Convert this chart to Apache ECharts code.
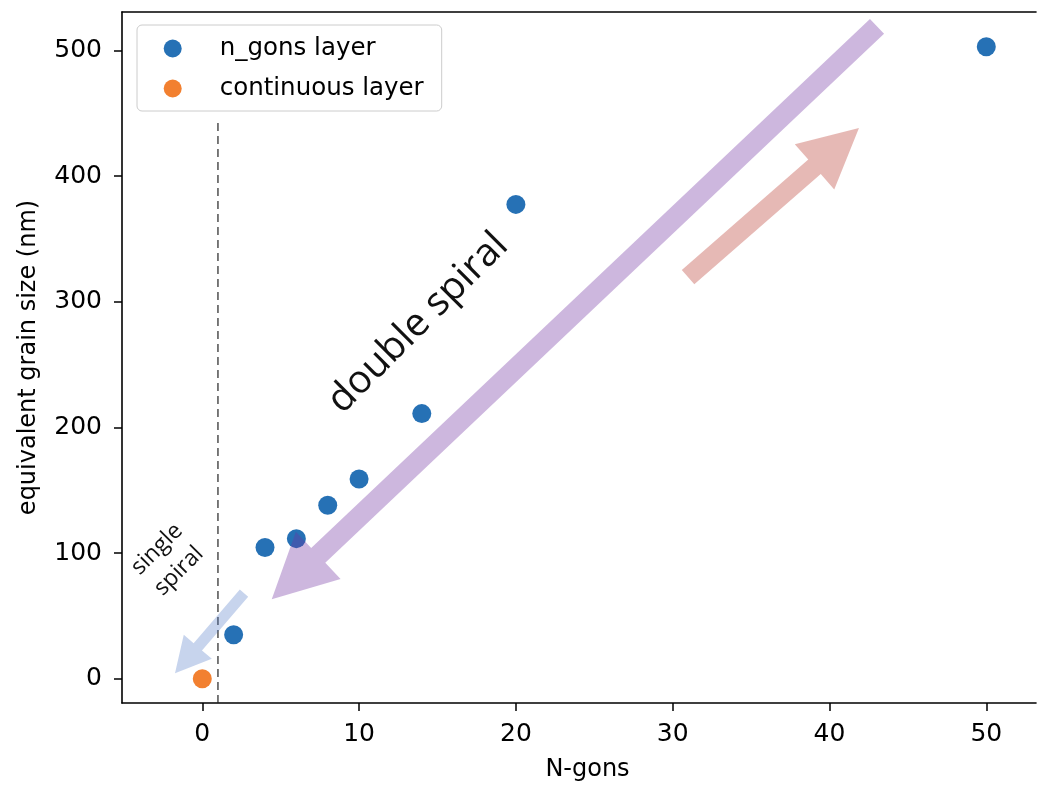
<!DOCTYPE html>
<html><head><meta charset="utf-8">
<script src="https://cdn.jsdelivr.net/npm/echarts@6/dist/echarts.min.js"></script>
<style>html,body{margin:0;padding:0;background:#fff}#c{width:1038px;height:787px}</style>
</head><body><div id="c"></div>
<script>
// ---- data ----
const nGonsX = [2, 4, 6, 8, 10, 14, 20, 50];
const nGonsY = [35, 104.5, 111.5, 138, 159, 211, 377.5, 503];
const continuousX = [0];
const continuousY = [0];
const xTicks = [0, 10, 20, 30, 40, 50];
const yTicks = [0, 100, 200, 300, 400, 500];
const xRange = [-5.12, 53.17];
const yRange = [-19.3, 530.6];
const dividerX = [1, 1];
const dividerY = [-19.3, 443];
const arrowTail = [[43.03, 519.2], [30.98, 319.6], [2.66, 68.2]];
const arrowTip = [[4.43, 63.2], [41.88, 438.3], [-1.74, 4.3]];
const noteTexts = ['double spiral', 'single\nspiral'];
const notePos = [[13.76, 283], [-2.19, 94.4]];

// ---- styles ----
const arrowStyle = [
  {shaft: 20.5, headW: 65, headL: 64, color: 'rgba(112,48,160,0.35)'},
  {shaft: 19, headW: 60, headL: 59, color: 'rgba(190,70,60,0.38)'},
  {shaft: 11, headW: 37, headL: 35, color: 'rgba(68,114,196,0.3)'}
];
const noteStyle = [
  {font: '400 39px "Open Sans", Lato, sans-serif', rot: Math.PI / 4, lh: 48},
  {font: '400 23px "Open Sans", Lato, sans-serif', rot: Math.PI / 4, lh: 31}
];
const F = '"DejaVu Sans", sans-serif';

const chart = echarts.init(document.getElementById('c'), null, {renderer: 'canvas'});
const axisLine = {show: true, onZero: false, lineStyle: {color: '#000', width: 1.6}};
chart.setOption({
  animation: false,
  backgroundColor: '#fff',
  grid: {left: 122, top: 12, right: 2, bottom: 84, containLabel: false, show: false},
  legend: {
    orient: 'vertical', left: 137, top: 25,
    padding: [11, 18, 10, 26.7],
    itemWidth: 18, itemHeight: 18, itemGap: 15,
    icon: 'circle',
    backgroundColor: 'rgba(255,255,255,0.85)',
    borderColor: '#cccccc', borderWidth: 1, borderRadius: 5,
    textStyle: {fontFamily: F, fontSize: 24.5, color: '#000', padding: [0, 0, 0, 33], lineHeight: 25},
    data: ['n_gons layer', 'continuous layer']
  },
  xAxis: [{
    type: 'value', min: xRange[0], max: xRange[1], position: 'bottom',
    name: 'N-gons', nameLocation: 'middle', nameGap: 55,
    nameTextStyle: {fontFamily: F, fontSize: 24, color: '#000', padding: [0, 0, 0, 17]},
    axisLine: axisLine,
    axisTick: {show: true, length: 8, lineStyle: {color: '#000', width: 1.5}, customValues: xTicks},
    axisLabel: {fontFamily: F, fontSize: 25, color: '#000', margin: 19, customValues: xTicks},
    splitLine: {show: false}
  }, {
    type: 'value', min: xRange[0], max: xRange[1], position: 'top',
    axisLine: axisLine, axisTick: {show: false}, axisLabel: {show: false}, splitLine: {show: false}
  }],
  yAxis: {
    type: 'value', min: yRange[0], max: yRange[1], position: 'left',
    name: 'equivalent grain size (nm)', nameLocation: 'middle', nameGap: 81,
    nameTextStyle: {fontFamily: F, fontSize: 24, color: '#000'},
    axisLine: axisLine,
    axisTick: {show: true, length: 8, lineStyle: {color: '#000', width: 1.5}, customValues: yTicks},
    axisLabel: {fontFamily: F, fontSize: 25, color: '#000', margin: 20, customValues: yTicks},
    splitLine: {show: false}
  },
  series: [
    {
      type: 'line', silent: true, symbol: 'none', z: 1,
      data: dividerX.map((x, i) => [x, dividerY[i]]),
      lineStyle: {color: '#222', width: 1.2, type: [8, 5]}
    },
    {
      name: 'n_gons layer', type: 'scatter', symbolSize: 19, z: 2,
      itemStyle: {color: '#2671b5', opacity: 1},
      data: nGonsX.map((x, i) => [x, nGonsY[i]])
    },
    {
      name: 'continuous layer', type: 'scatter', symbolSize: 19, z: 2,
      itemStyle: {color: '#f28030', opacity: 1},
      data: continuousX.map((x, i) => [x, continuousY[i]])
    },
    {
      type: 'custom', z: 3, silent: true, clip: false,
      encode: {x: [0, 2], y: [1, 3]},
      data: arrowTail.map((t, i) => [t[0], t[1], arrowTip[i][0], arrowTip[i][1]]),
      renderItem: function (params, api) {
        const s = arrowStyle[params.dataIndex];
        const p1 = api.coord([api.value(0), api.value(1)]);
        const p2 = api.coord([api.value(2), api.value(3)]);
        const dx = p2[0] - p1[0], dy = p2[1] - p1[1];
        const L = Math.hypot(dx, dy);
        const ux = dx / L, uy = dy / L;
        const nx = -uy, ny = ux;
        const nk = [p2[0] - ux * s.headL, p2[1] - uy * s.headL];
        const w = s.shaft / 2, h = s.headW / 2;
        const pts = [
          [p1[0] + nx * w, p1[1] + ny * w],
          [nk[0] + nx * w, nk[1] + ny * w],
          [nk[0] + nx * h, nk[1] + ny * h],
          [p2[0], p2[1]],
          [nk[0] - nx * h, nk[1] - ny * h],
          [nk[0] - nx * w, nk[1] - ny * w],
          [p1[0] - nx * w, p1[1] - ny * w]
        ];
        return {type: 'polygon', shape: {points: pts}, style: {fill: s.color, stroke: null}};
      }
    },
    {
      type: 'custom', z: 4, silent: true, clip: false,
      data: notePos.map(p => [p[0], p[1]]),
      renderItem: function (params, api) {
        const i = params.dataIndex;
        const s = noteStyle[i];
        const p = api.coord([api.value(0), api.value(1)]);
        return {
          type: 'text', x: p[0], y: p[1], rotation: s.rot,
          style: {text: noteTexts[i], font: s.font, lineHeight: s.lh, align: 'center', verticalAlign: 'middle', fill: '#111'}
        };
      }
    }
  ]
});
</script>
</body></html>
